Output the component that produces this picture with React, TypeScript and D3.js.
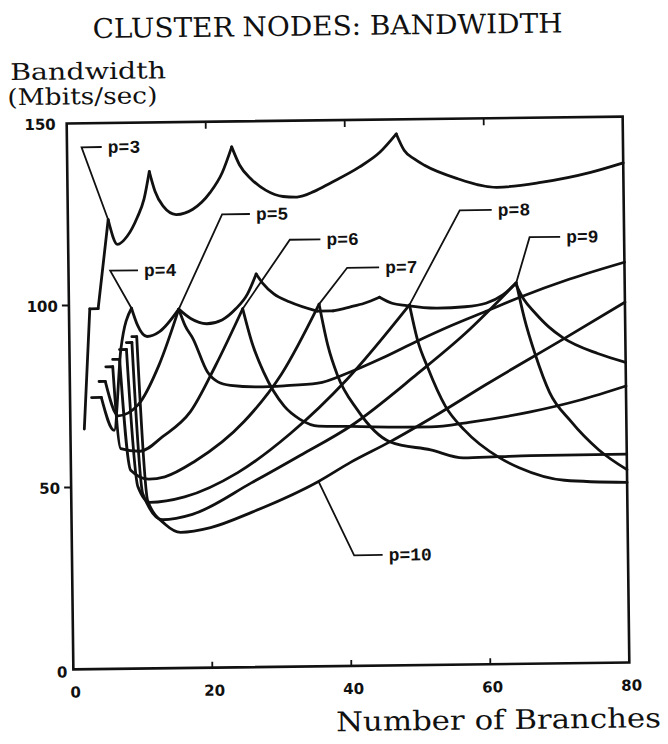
import React from "react";
import * as d3 from "d3";

type Pt = [number, number];

const chartTitle = "CLUSTER NODES: BANDWIDTH";
const yLabelLines = ["Bandwidth", "(Mbits/sec)"];
const xLabel = "Number of Branches";
const xTickValues = [0, 20, 40, 60, 80];
const yTickValues = [0, 50, 100, 150];
const xInnerTicks = [20, 40, 60];
const yOuterTicks = [50, 100];

const seriesLabels = ["p=3", "p=4", "p=5", "p=6", "p=7", "p=8", "p=9", "p=10"];

const bwP3: Pt[] = [[2,66],[3,99],[4.2,99],[5.8,123.4],[7.1,116.6],[8.5,118.8],[10,124],[11,129],[11.8,136.5],[12.6,131],[13.7,127],[15.6,124.6],[18,126],[20.5,130.5],[22.3,136],[23.7,143],[24.8,138],[26.5,134],[28.5,131],[31,129.2],[33,129],[35.5,130.5],[37.8,132.7],[42,137],[45,141],[47.4,146],[48.5,141.5],[50,139],[51.4,137.3],[56,133.6],[61.8,131],[68.1,132.2],[75.3,134.8],[80,137.3]];
const bwP4: Pt[] = [[3.1,74.6],[4.5,74.6],[6.3,65.5],[7.4,87.8],[9,99],[9.8,94.5],[11.2,91.2],[13,92.5],[15.8,98.6],[17.5,96],[19.8,94.5],[22,95.5],[24,98.5],[25.7,102.5],[27,108],[27.9,105.5],[29.5,102.5],[31.8,100.2],[35.7,97.6],[38,97.6],[40.4,98.6],[42.5,99.6],[44.7,101.2],[46.5,99.5],[48.6,98.8],[53,98],[57,98.3],[60,99.2],[62.5,101.5],[64.3,104.5],[65.5,100],[67,96.5],[69,92.5],[71,89.5],[76,85],[80,82.5]];
const bwP5: Pt[] = [[4.2,79],[5.1,79],[6.9,69.5],[9.8,72.5],[12.9,83.5],[15.8,98.6],[16.7,94],[17.8,90.4],[19.8,81.3],[21.3,78.5],[23.1,77.5],[27,77],[30.8,77.2],[35.7,77.8],[40,80.5],[45,84.5],[50,89],[55,93.2],[60,97],[65,100.8],[72,105.5],[80,110]];
const bwP6: Pt[] = [[5.2,83],[6.2,83],[7.2,60.5],[10,59.7],[13.3,63.7],[17.3,70.4],[21,83],[25,98.5],[26.3,89],[27.9,81],[30.8,71.6],[33,68],[35.7,66],[40.4,65.8],[43.6,65.6],[51.8,65.4],[57.6,66.6],[66.2,69.2],[73.4,72.3],[80,76]];
const bwP7: Pt[] = [[6.2,85],[7.2,85],[8.6,54.5],[11.2,52],[13.5,52.6],[17.8,56.7],[25,67.5],[30.5,80.5],[36,99.5],[37.2,88],[38.5,80],[41.3,70.4],[46,61.4],[51.8,59.1],[56.5,56.8],[61.4,57],[66.2,57.2],[80,57.3]];
const bwP8: Pt[] = [[7.2,87.7],[8.2,87.7],[9.6,50],[11.3,45.6],[16.3,47],[24,53.5],[31.6,64],[40,79],[49,99],[50.1,89.3],[51.5,81.8],[54,71],[56.7,64.4],[61.6,56.8],[64.5,53.9],[71,50.3],[80,49.5]];
const bwP9: Pt[] = [[8.2,89.6],[9,89.6],[10.3,48],[13.1,40.8],[17.4,42.2],[26,50.7],[33,58],[40.4,66],[50,80],[57,91],[64.4,104.7],[65.5,95],[67,85],[69,74.5],[72,66.5],[76,58.5],[80,53]];
const bwP10: Pt[] = [[9,91.2],[9.7,91.2],[11,46],[13.5,39.5],[15.7,37.3],[20,38.5],[26,42.6],[35.6,50.8],[40.3,56],[46,61.5],[53,69],[60,77],[71,89],[80,99]];

const leaderP3: Pt[] = [[5.8,123.4],[2.1,143.4],[5.0,143.4]];
const leaderP4: Pt[] = [[9,99],[6.0,109.4],[10.0,109.4]];
const leaderP5: Pt[] = [[15.8,98.6],[22.2,124.5],[26.2,124.5]];
const leaderP6: Pt[] = [[25,98.5],[31.9,117.3],[36.3,117.3]];
const leaderP7: Pt[] = [[36,99.5],[40.1,109.4],[44.7,109.4]];
const leaderP8: Pt[] = [[49,99],[56.4,124.8],[61,124.8]];
const leaderP9: Pt[] = [[64.4,104.7],[66.4,117.2],[70.8,117.2]];
const leaderP10: Pt[] = [[35.6,50.8],[40.6,30.4],[44.7,30.4]];

const allSeries = [bwP3, bwP4, bwP5, bwP6, bwP7, bwP8, bwP9, bwP10];
const allLeaders = [leaderP3, leaderP4, leaderP5, leaderP6, leaderP7, leaderP8, leaderP9, leaderP10];

// split a series at peaks / plateau corners so cusps stay sharp
function splitAtCusps(pts: Pt[]): Pt[][] {
  const br = [0];
  for (let i = 1; i < pts.length - 1; i++) {
    const a = pts[i - 1][1], b = pts[i][1], c = pts[i + 1][1];
    if ((b >= a && b >= c) || b === a || b === c) br.push(i);
  }
  br.push(pts.length - 1);
  const out: Pt[][] = [];
  for (let k = 1; k < br.length; k++) out.push(pts.slice(br[k - 1], br[k] + 1));
  return out;
}

export default function App() {
  const W = 668, H = 744;
  const left = 70, right = 626, top = 120, bottom = 666;
  const x = d3.scaleLinear().domain([0, 80]).range([left, right]);
  const y = d3.scaleLinear().domain([0, 150]).range([bottom, top]);
  const smooth = d3.line<Pt>().x(d => x(d[0])).y(d => y(d[1])).curve(d3.curveMonotoneX);
  const straight = d3.line<Pt>().x(d => x(d[0])).y(d => y(d[1]));
  const ink = "#111";
  const serif = "'DejaVu Serif', serif";
  const mono = "'Liberation Mono', monospace";
  const sans = "'DejaVu Sans', sans-serif";

  return (
    <svg width={W} height={H} style={{ position: "absolute", left: 0, top: 0, background: "#fff" }}>
      <rect x={0} y={0} width={W} height={H} fill="#fff" />
      <g transform="rotate(-0.7 348 393)">
        <text x={97} y={35} fontFamily={serif} fontSize={27}
          textLength={470} lengthAdjust="spacingAndGlyphs" fill={ink}>{chartTitle}</text>
        <text x={14} y={76} fontFamily={serif} fontSize={23} textLength={156}
          lengthAdjust="spacingAndGlyphs" fill={ink}>{yLabelLines[0]}</text>
        <text x={11} y={101} fontFamily={serif} fontSize={23} textLength={150}
          lengthAdjust="spacingAndGlyphs" fill={ink}>{yLabelLines[1]}</text>
        <text x={332} y={731} fontFamily={serif} fontSize={27} textLength={325}
          lengthAdjust="spacingAndGlyphs" fill={ink}>{xLabel}</text>

        {/* frame */}
        <rect x={left} y={top} width={right - left} height={bottom - top} fill="none" stroke={ink} strokeWidth={2.6} />
        {xInnerTicks.map(t => (
          <g key={"xt" + t}>
            <line x1={x(t)} x2={x(t)} y1={bottom} y2={bottom - 6} stroke={ink} strokeWidth={1.8} />
            <line x1={x(t)} x2={x(t)} y1={top} y2={top + 7} stroke={ink} strokeWidth={1.8} />
          </g>
        ))}
        {yOuterTicks.map(t => (
          <line key={"yt" + t} x1={left} x2={left - 7} y1={y(t)} y2={y(t)} stroke={ink} strokeWidth={2} />
        ))}
        {xTickValues.map(t => (
          <text key={"xl" + t} x={x(t) + 2} y={bottom + 28} textAnchor="middle" fontFamily={sans}
            fontWeight="bold" fontSize={15} fill={ink}>{t}</text>
        ))}
        {yTickValues.map(t => (
          <text key={"yl" + t} x={t === 0 ? left - 6 : left - 11} y={t === 0 ? y(t) + 8 : y(t) + 6}
            textAnchor="end" fontFamily={sans} fontWeight="bold" fontSize={15} fill={ink}>{t}</text>
        ))}

        {/* curves */}
        {allSeries.map((s, i) => (
          <g key={"s" + i}>
            {splitAtCusps(s).map((seg, j) => (
              <path key={j} d={smooth(seg) || ""} fill="none" stroke={ink} strokeWidth={2.8}
                strokeLinejoin="round" strokeLinecap="round" />
            ))}
          </g>
        ))}

        {/* labels with leader lines */}
        {allLeaders.map((ld, i) => {
          const end = ld[ld.length - 1];
          return (
            <g key={"l" + i}>
              <path d={straight(ld) || ""} fill="none" stroke={ink} strokeWidth={1.8} />
              <text x={x(end[0]) + 6} y={y(end[1]) + 6} fontFamily={mono} fontWeight="bold"
                fontSize={18} fill={ink}>{seriesLabels[i]}</text>
            </g>
          );
        })}
      </g>
    </svg>
  );
}
